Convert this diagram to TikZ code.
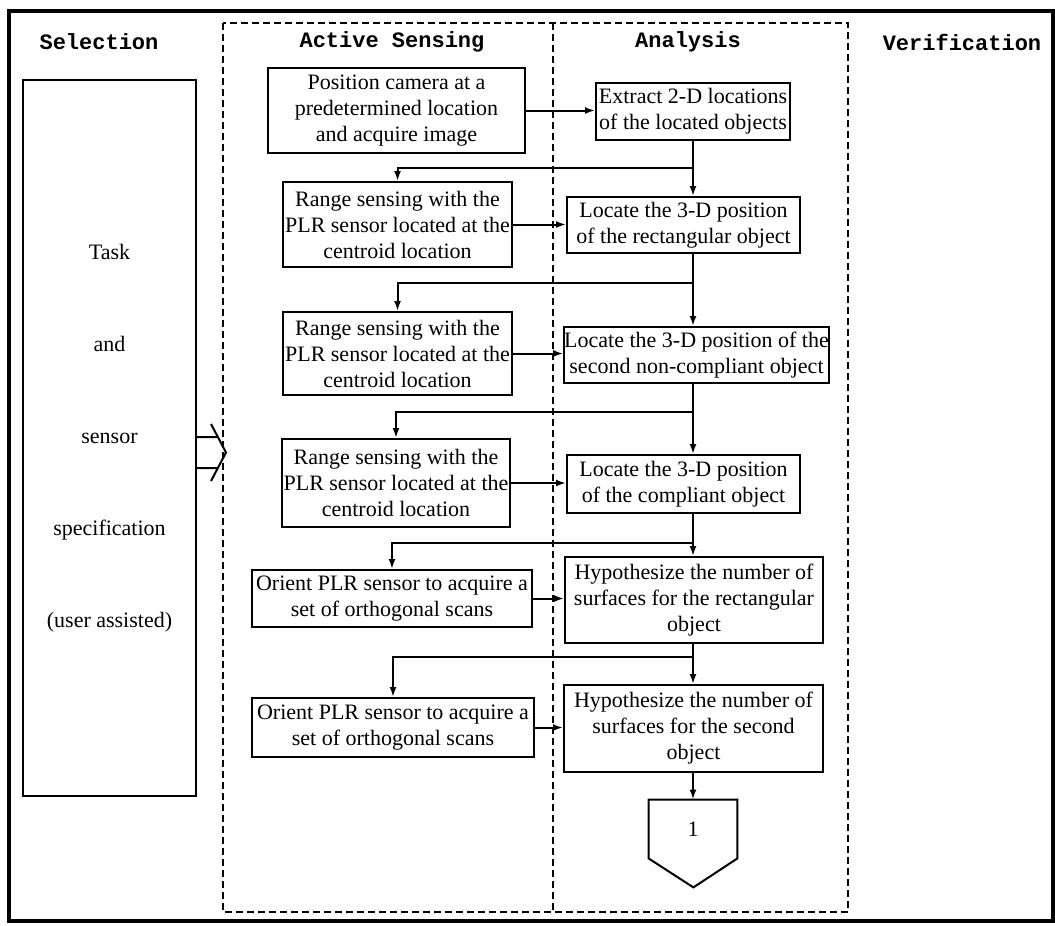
\documentclass[tikz,border=0pt]{standalone}
\usepackage{fontspec}
\setmainfont{Liberation Serif}
\setmonofont{Liberation Mono}
\usetikzlibrary{arrows.meta}

\begin{document}
\begin{tikzpicture}[
    x=0.5pt, y=-0.5pt,
    box/.style={rectangle, draw=black, line width=1pt, fill=white, align=center,
        inner xsep=0pt, inner ysep=1pt, font=\fontsize{11}{13}\selectfont},
    dim/.style n args={2}{minimum width=#1*0.5pt, minimum height=#2*0.5pt},
    head/.style={font=\ttfamily\bfseries\fontsize{11}{13}\selectfont},
    arr/.style={-{Latex[length=5pt,width=3.5pt]}, line width=1pt},
    lane/.style={line width=1pt, dash pattern=on 3.5pt off 2pt}
]
    \useasboundingbox (0,0) rectangle (1055,926);

    % Frame and lanes
    \draw[line width=1.6pt] (9,11) rectangle (1053,921);
    \draw[lane] (223,23) rectangle (848,912);
    \draw[lane] (553,23) -- (553,912);

    % Headings
    \node[head] (hsel) at (99,42) {Selection};
    \node[head] (hact) at (392,42) {Active Sensing};
    \node[head] (hana) at (688,42) {Analysis};
    \node[head] (hver) at (962,42) {Verification};

    % Selection
    \node[box, dim={173}{716}] (task) at (109.5,438)
        {Task\\[33pt]and\\[33pt]sensor\\[33pt]specification\\[33pt](user assisted)};
    \draw[line width=1pt] (196,437) -- (218,437) (196,468) -- (218,468)
        (211,424) -- (226,452.5) -- (211,481);

    % Active sensing
    \node[box, dim={257}{85}] (cam) at (396.5,110.5) {Position camera at a\\predetermined location\\and acquire image};
    \node[box, dim={229}{85}] (rng1) at (397.5,224.5) {Range sensing with the\\PLR sensor located at the\\centroid location};
    \node[box, dim={229}{83}] (rng2) at (397.5,353.5) {Range sensing with the\\PLR sensor located at the\\centroid location};
    \node[box, dim={228}{88}] (rng3) at (396,483) {Range sensing with the\\PLR sensor located at the\\centroid location};
    \node[box, dim={280}{57}] (ori1) at (392,598.5) {Orient PLR sensor to acquire a\\set of orthogonal scans};
    \node[box, dim={282}{59}] (ori2) at (393,727.5) {Orient PLR sensor to acquire a\\set of orthogonal scans};

    % Analysis
    \node[box, dim={194}{57}] (ext) at (693,111.5) {Extract 2-D locations\\of the located objects};
    \node[box, dim={233}{56}] (loc1) at (683.5,225) {Locate the 3-D position\\of the rectangular object};
    \node[box, dim={259}{56}] (loc2) at (696.5,355) {Locate the 3-D position of the\\second non-compliant object};
    \node[box, dim={233}{58}] (loc3) at (683.5,484) {Locate the 3-D position\\of the compliant object};
    \node[box, dim={258}{86}] (hyp1) at (694,600) {Hypothesize the number of\\surfaces for the rectangular\\object};
    \node[box, dim={259}{87}] (hyp2) at (693.5,728.5) {Hypothesize the number of\\surfaces for the second\\object};

    % Off-page connector
    \node[dim={88}{58}, inner sep=0pt, font=\fontsize{11}{13}\selectfont] (conn) at (693,829) {1};
    \draw[line width=1pt] (conn.south west) -- (conn.north west) -- (conn.north east)
        -- (conn.south east) -- ++(-44,29) -- cycle;

    % Trunk and branches
    \coordinate (j1) at (693,168);
    \coordinate (j2) at (693,283);
    \coordinate (j3) at (693,412);
    \coordinate (j4) at (693,543);
    \coordinate (j5) at (693,657);

    \draw[arr] (ext.south) -- (ext.south |- loc1.north);
    \draw[arr] (j1 |- loc1.south) -- (j1 |- loc2.north);
    \draw[arr] (j1 |- loc2.south) -- (j1 |- loc3.north);
    \draw[arr] (j1 |- loc3.south) -- (j1 |- hyp1.north);
    \draw[arr] (j1 |- hyp1.south) -- (j1 |- hyp2.north);
    \draw[arr] (j1 |- hyp2.south) -- (j1 |- conn.north);

    \draw[arr] (j1) -| (rng1.north);
    \draw[arr] (j2) -| (rng2.north);
    \draw[arr] (j3) -| (rng3.north);
    \draw[arr] (j4) -| (ori1.north);
    \draw[arr] (j5) -| (ori2.north);

    % Sensing to analysis
    \draw[arr] (cam.east) -- (cam.east -| ext.west);
    \draw[arr] (rng1.east) -- (rng1.east -| loc1.west);
    \draw[arr] (rng2.east) -- (rng2.east -| loc2.west);
    \draw[arr] (rng3.east) -- (rng3.east -| loc3.west);
    \draw[arr] (ori1.east) -- (ori1.east -| hyp1.west);
    \draw[arr] (ori2.east) -- (ori2.east -| hyp2.west);
\end{tikzpicture}
\end{document}
